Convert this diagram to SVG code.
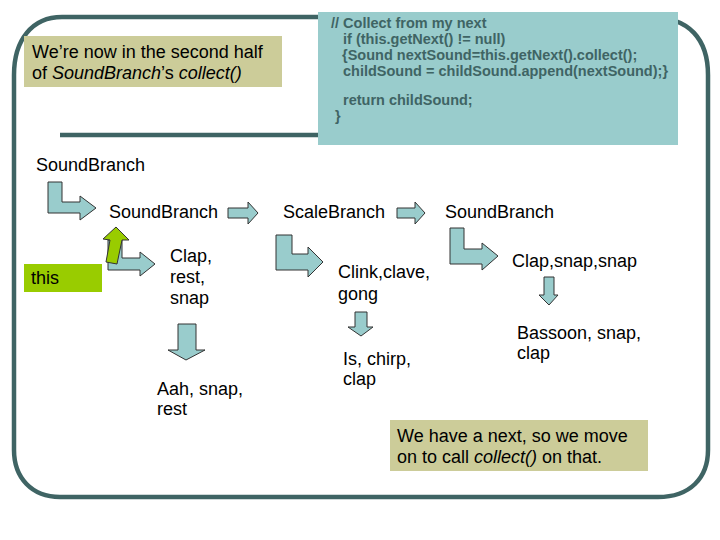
<svg xmlns="http://www.w3.org/2000/svg" width="720" height="540" viewBox="0 0 720 540">
<style>
.frame{fill:none;stroke:#3f6464;stroke-width:4.5}
.arr{fill:#99cccc;stroke:#333;stroke-width:1;stroke-linejoin:miter}
.garr{fill:#99cc00;stroke:#333;stroke-width:1}
.t{font-family:"Liberation Sans",Arial,sans-serif;font-size:18px;fill:#000}
.code{font-family:"Liberation Sans",Arial,sans-serif;font-size:14.5px;font-weight:bold;fill:#3f6464}
.tan{fill:#cccc99}
.it{font-style:italic}
</style>
<rect width="720" height="540" fill="#fff"/>
<g id="frame">
<path class="frame" d="M62,17 H650 C690,17 708,40 708,75 V450 C708,478 690,497 658,497 H60 C32,497 14,478 14,450 V75 C14,40 32,17 62,17 Z"/>
<path class="frame" d="M60,135 H318"/>
</g>
<g id="code">
<rect x="318" y="12" width="360" height="133" fill="#99cccc"/>
<text class="code" x="331" y="28">// Collect from  my next</text>
<text class="code" x="343" y="44">if (this.getNext() != null)</text>
<text class="code" x="342" y="60">{Sound nextSound=this.getNext().collect();</text>
<text class="code" x="343" y="76">childSound = childSound.append(nextSound);}</text>
<text class="code" x="343" y="105">return childSound;</text>
<text class="code" x="335" y="121">}</text>
</g>
<g id="note1">
<rect class="tan" x="24" y="36" width="258" height="51"/>
<text class="t" x="32" y="58">We’re now in the second half</text>
<text class="t" x="32" y="79">of <tspan class="it">SoundBranch</tspan>’s <tspan class="it">collect()</tspan></text>
</g>
<g id="note2">
<rect class="tan" x="390" y="420" width="258" height="51"/>
<text class="t" x="397" y="442">We have a next, so we move</text>
<text class="t" x="397" y="463">on to call <tspan class="it">collect()</tspan> on that.</text>
</g>
<g id="this">
<rect x="24" y="264" width="78" height="28" fill="#99cc00"/>
<text class="t" x="31" y="284">this</text>
</g>
<g id="sb1"><text class="t" x="36" y="171">SoundBranch</text></g>
<g id="sb2"><text class="t" x="109" y="218">SoundBranch</text></g>
<g id="scale"><text class="t" x="283" y="218">ScaleBranch</text></g>
<g id="sb3"><text class="t" x="445" y="218">SoundBranch</text></g>
<g id="clap1"><text class="t" x="170" y="262">Clap,</text><text class="t" x="170" y="283">rest,</text><text class="t" x="170" y="304">snap</text></g>
<g id="aah"><text class="t" x="157" y="395">Aah, snap,</text><text class="t" x="157" y="415">rest</text></g>
<g id="clink"><text class="t" x="338" y="278">Clink,clave,</text><text class="t" x="338" y="300">gong</text></g>
<g id="is"><text class="t" x="343" y="365">Is, chirp,</text><text class="t" x="343" y="385">clap</text></g>
<g id="clap2"><text class="t" x="512" y="267">Clap,snap,snap</text></g>
<g id="bassoon"><text class="t" x="517" y="339">Bassoon, snap,</text><text class="t" x="517" y="359">clap</text></g>
<g id="connectors">
<path class="arr" d="M48,182 H62 V202 H80 V196 L96,208 L80,220 V213 H48 Z"/>
<path class="arr" d="M228,208 H248 V202 L258,213 L248,224 V218 H228 Z"/>
<path class="arr" d="M397,208 H415 V202 L425,213 L415,224 V218 H397 Z"/>
<path class="arr" d="M108,240 H122 V258 H140 V252 L155,264 L140,276 V270 H108 Z"/>
<path class="garr" d="M116,227 L129,240 L122,240 L117,264 L106,262 L110,240 L103,239 Z"/>
<path class="arr" d="M276,235 H292 V254 H308 V247 L323,262 L308,277 V270 H276 Z"/>
<path class="arr" d="M450,228 H464 V249 H482 V243 L498,256 L482,270 V264 H450 Z"/>
<path class="arr" d="M178,324 H196 V350 H205 L186,360 L168,350 H178 Z"/>
<path class="arr" d="M355,312 H367 V327 H373 L361,336 L348,327 H355 Z"/>
<path class="arr" d="M544,277 H554 V295 H558 L549,305 L539,295 H544 Z"/>
</g>
</svg>
